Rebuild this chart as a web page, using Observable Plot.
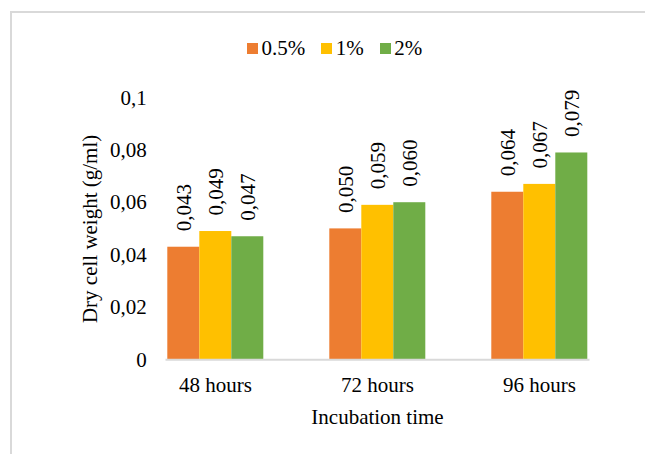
<!DOCTYPE html>
<html>
<head>
<meta charset="utf-8">
<script src="https://cdn.jsdelivr.net/npm/d3@7"></script>
<script src="https://cdn.jsdelivr.net/npm/@observablehq/plot@0.6"></script>
<style>
  html, body { margin: 0; padding: 0; background: #fff; overflow: hidden; }
  #wrap { position: relative; width: 645px; height: 454px; overflow: hidden; font-family: "Liberation Serif", serif; }
  #frame { position: absolute; left: 10px; top: 11px; width: 700px; height: 520px; border: 2px solid #d9d9d9; box-sizing: border-box; }
  #legend { position: absolute; left: 247px; top: 36px; height: 24px; display: flex; align-items: center; font-family: "Liberation Serif", serif; font-size: 21px; color: #000; }
  #legend .item { display: flex; align-items: center; margin-right: 16px; }
  #legend .sw { width: 11px; height: 11px; margin-right: 3.5px; }
  #chart { position: absolute; left: 0; top: 0; }
  #chart svg text { font-family: "Liberation Serif", serif; }
</style>
</head>
<body>
<div id="wrap">
  <div id="frame"></div>
  <div id="chart"></div>
  <div id="legend"></div>
</div>
<script>
// Incubation times (groups) and glucose concentrations (series)
const times = ["48 hours", "72 hours", "96 hours"];
const series = ["0.5%", "1%", "2%"];
const seriesColors = ["#ED7D31", "#FFC000", "#70AD47"];

// Dry cell weight (g/ml) per series, one value per incubation time
const dcw05 = [0.043, 0.050, 0.064];
const dcw1 = [0.049, 0.059, 0.067];
const dcw2 = [0.047, 0.060, 0.079];

// Y axis ticks and their labels (decimal comma)
const yTicks = [0, 0.02, 0.04, 0.06, 0.08, 0.1];
const yTickLabels = ["0", "0,02", "0,04", "0,06", "0,08", "0,1"];

const seriesValues = [dcw05, dcw1, dcw2];
const rows = [];
times.forEach((t, i) => {
  series.forEach((s, j) => {
    rows.push({time: t, series: s, value: seriesValues[j][i]});
  });
});

const fmt = v => v.toFixed(3).replace(".", ",");
const serif = "Liberation Serif";

const chart = Plot.plot({
  width: 645,
  height: 454,
  marginTop: 97.5,
  marginBottom: 94.7,
  marginLeft: 132.7,
  marginRight: 25,
  style: {fontFamily: serif, fontSize: "21px", color: "#000", background: "transparent"},
  fx: {domain: times, paddingInner: 0.397, paddingOuter: 0.1985, label: null},
  x: {domain: series, padding: 0, axis: null},
  y: {domain: [0, 0.1], axis: null},
  color: {domain: series, range: seriesColors},
  marks: [
    Plot.axisY({
      ticks: yTicks,
      tickFormat: (d, i) => yTickLabels[i],
      tickSize: 0,
      tickPadding: 19.7,
      fontFamily: serif,
      fontSize: 21,
      label: null
    }),
    Plot.axisFx({
      anchor: "bottom",
      tickSize: 0,
      tickPadding: 17.3,
      fontFamily: serif,
      fontSize: 21,
      label: null
    }),
    Plot.barY(rows, {fx: "time", x: "series", y: "value", fill: "series", inset: 0}),
    Plot.text(rows, {
      fx: "time", x: "series", y: "value",
      text: d => fmt(d.value),
      rotate: -90,
      textAnchor: "start",
      dy: -16,
      fontFamily: serif,
      fontSize: 21,
      fill: "#000"
    }),
    // baseline across the whole frame
    Plot.frame({anchor: "bottom", stroke: "#d9d9d9", strokeWidth: 2, facet: "super"}),
    Plot.text(["Dry cell weight (g/ml)"], {
      frameAnchor: "left", dx: -76, rotate: -90, textAnchor: "middle", lineAnchor: "middle",
      fontFamily: serif, fontSize: 21, fill: "#000", facet: "super"
    }),
    Plot.text(["Incubation time"], {
      frameAnchor: "bottom", dy: 57.4, textAnchor: "middle", lineAnchor: "middle",
      fontFamily: serif, fontSize: 21, fill: "#000", facet: "super"
    })
  ]
});
document.getElementById("chart").appendChild(chart);

// Legend built from the same series and colours
const legend = document.getElementById("legend");
series.forEach((s, j) => {
  const item = document.createElement("div");
  item.className = "item";
  const sw = document.createElement("div");
  sw.className = "sw";
  sw.style.background = seriesColors[j];
  const label = document.createElement("span");
  label.textContent = s;
  item.appendChild(sw);
  item.appendChild(label);
  legend.appendChild(item);
});
</script>
</body>
</html>
